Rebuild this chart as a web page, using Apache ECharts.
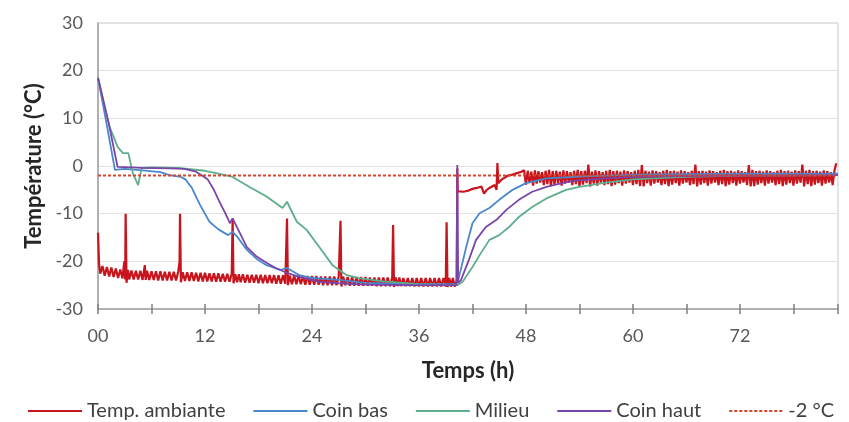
<!DOCTYPE html>
<html>
<head>
<meta charset="utf-8">
<script src="https://cdn.jsdelivr.net/npm/echarts@6/dist/echarts.min.js"></script>
<style>html,body{margin:0;padding:0;background:#fff}#c{width:849px;height:422px}</style>
</head>
<body>
<div id="c"></div>
<script>
// ---- Data (time in hours, temperature in °C) ----
const xTickLabels = ['00','12','24','36','48','60','72'];
const seriesNames = ['Temp. ambiante','Coin bas','Milieu','Coin haut','-2 °C'];

const tempAmbiante = [
 [0,-14],[0.12,-20.6],[0.25,-22.6],[0.5,-21],[0.75,-23],[1,-21.2],[1.25,-23.2],[1.5,-21.3],[1.75,-23.3],[2,-21.5],[2.25,-23.5],
 [2.5,-21.7],[2.75,-23.6],[2.95,-20],[3.05,-23.8],[3.1,-10],[3.2,-24.5],[3.35,-21.8],[3.5,-23.8],[3.75,-21.9],[4,-23.8],
 [4.25,-22],[4.5,-23.8],[4.75,-22],[5,-23.9],[5.25,-20.8],[5.35,-23.9],[5.5,-22],[5.75,-23.9],[6,-22.1],[6.25,-23.9],
 [6.5,-22.1],[6.75,-24],[7,-22.1],[7.25,-24],[7.5,-22.2],[7.75,-24],[8,-22.2],[8.25,-24],[8.5,-22.2],[8.75,-24],[9,-22.2],
 [9.15,-20],[9.2,-10],[9.3,-24.4],[9.5,-22.3],[9.75,-24.1],[10,-22.3],[10.25,-24.1],[10.5,-22.3],[10.75,-24.1],[11,-22.4],
 [11.25,-24.2],[11.5,-22.4],[11.75,-24.2],[12,-22.4],[12.25,-24.2],[12.5,-22.5],[12.75,-24.2],[13,-22.5],[13.25,-24.3],
 [13.5,-22.5],[13.75,-24.3],[14,-22.6],[14.25,-24.3],[14.5,-22.6],[14.75,-24.3],[15,-22.6],[15.1,-11],[15.2,-24.6],
 [15.4,-22.7],[15.6,-24.4],[15.8,-22.7],[16,-24.4],[16.25,-22.7],[16.5,-24.5],[16.75,-22.8],[17,-24.5],[17.25,-22.8],
 [17.5,-24.5],[17.75,-22.8],[18,-24.6],[18.25,-22.8],[18.5,-24.6],[18.75,-22.9],[19,-24.6],[19.25,-22.9],[19.5,-24.6],
 [19.75,-22.9],[20,-24.7],[20.25,-22.9],[20.5,-24.7],[20.75,-22.9],[21,-24.7],[21.2,-11],[21.3,-25],[21.5,-23],[21.75,-24.8],
 [22,-23],[22.25,-24.8],[22.5,-23],[22.75,-24.8],[23,-23.1],[23.25,-24.9],[23.5,-23.1],[23.75,-24.9],[24,-23.1],[24.25,-24.9],
 [24.5,-23.1],[24.75,-24.9],[25,-23.2],[25.25,-25],[25.5,-23.2],[25.75,-25],[26,-23.2],[26.25,-25],[26.5,-23.2],[26.75,-25],
 [27,-23.2],[27.2,-11.5],[27.3,-25.3],[27.5,-23.2],[27.75,-25],[28,-23.3],[28.25,-25.1],[28.5,-23.3],[28.75,-25.1],[29,-23.3],
 [29.25,-25.1],[29.5,-23.3],[29.75,-25.1],[30,-23.3],[30.25,-25.1],[30.5,-23.4],[30.75,-25.1],[31,-23.4],[31.25,-25.2],
 [31.5,-23.4],[31.75,-25.2],[32,-23.4],[32.25,-25.2],[32.5,-23.4],[32.75,-25.2],[33,-23.4],[33.1,-12.4],[33.2,-25.4],
 [33.4,-23.4],[33.6,-25.2],[33.8,-23.4],[34,-25.2],[34.25,-23.5],[34.5,-25.2],[34.75,-23.5],[35,-25.2],[35.25,-23.5],
 [35.5,-25.3],[35.75,-23.5],[36,-25.3],[36.25,-23.5],[36.5,-25.3],[36.75,-23.5],[37,-25.3],[37.25,-23.5],[37.5,-25.3],
 [37.75,-23.5],[38,-25.3],[38.25,-23.5],[38.5,-25.3],[38.75,-23.5],[39,-25.3],[39.1,-11.8],[39.2,-25.4],[39.4,-23.5],
 [39.6,-25.3],[39.8,-23.5],[40,-25.3],[40.25,-24],
 [40.3,-0.5],[40.35,-5.3],[41,-5.4],[41.5,-5.2],[42,-4.8],[42.5,-4.6],[43,-4.3],[43.3,-5.8],[43.6,-5],[44,-4.5],[44.5,-4],
 [44.7,-5],[44.8,0.6],[44.9,-3.6],[45.3,-2.8],[46,-2],[46.5,-1.8],[47,-1.5],[47.5,-1.2],[47.8,-0.9],
 [48.0,-3.9],[48.2,-1.0],[48.4,-3.6],[48.6,-1.2],[48.8,-4.1],[49.0,-0.9],[49.2,-3.7],[49.4,-1.1],[49.6,-3.5],[49.8,-1.3],
 [50.0,-4.0],[50.2,-1.0],[50.4,-3.8],[50.6,-0.8],[50.8,-4.2],[51.0,-1.1],[51.2,-3.9],[51.4,-1.0],[51.6,-3.6],[51.8,-1.2],
 [52.0,-4.1],[52.2,-0.9],[52.4,-3.7],[52.6,-1.1],[52.8,-3.5],[53.0,-1.3],[53.2,-4.0],[53.4,-1.0],[53.6,-3.8],[53.8,-0.8],
 [54.0,-4.2],[54.2,-1.1],[54.4,-3.9],[54.6,-1.0],[54.8,-3.6],[55.0,0.3],[55.2,-4.3],[55.4,-1.2],[55.6,-3.7],[55.8,-0.9],
 [56.0,-4.1],[56.2,-1.1],[56.4,-3.5],[56.6,-1.3],[56.8,-4.0],[57.0,-1.0],[57.2,-3.8],[57.4,-0.8],[57.6,-4.2],[57.8,-1.1],
 [58.0,-3.9],[58.2,-1.0],[58.4,-3.6],[58.6,-1.2],[58.8,-4.1],[59.0,-0.9],[59.2,-3.7],[59.4,-1.1],[59.6,-3.5],[59.8,-1.3],
 [60.0,-4.0],[60.2,-1.0],[60.4,-3.8],[60.6,-0.8],[60.8,-4.2],[61.0,0.2],[61.2,-4.3],[61.4,-1.0],[61.6,-3.6],[61.8,-1.2],
 [62.0,-4.1],[62.2,-0.9],[62.4,-3.7],[62.6,-1.1],[62.8,-3.5],[63.0,-1.3],[63.2,-4.0],[63.4,-1.0],[63.6,-3.8],[63.8,-0.8],
 [64.0,-4.2],[64.2,-1.1],[64.4,-3.9],[64.6,-1.0],[64.8,-3.6],[65.0,-1.2],[65.2,-4.1],[65.4,-0.9],[65.6,-3.7],[65.8,-1.1],
 [66.0,-3.5],[66.2,-1.3],[66.4,-4.0],[66.6,-1.0],[66.8,-3.8],[67.0,0.3],[67.2,-4.3],[67.4,-1.1],[67.6,-3.9],[67.8,-1.0],
 [68.0,-3.6],[68.2,-1.2],[68.4,-4.1],[68.6,-0.9],[68.8,-3.7],[69.0,-1.1],[69.2,-3.5],[69.4,-1.3],[69.6,-4.0],[69.8,-1.0],
 [70.0,-3.8],[70.2,-0.8],[70.4,-4.2],[70.6,-1.1],[70.8,-3.9],[71.0,-1.0],[71.2,-3.6],[71.4,-1.2],[71.6,-4.1],[71.8,-0.9],
 [72.0,-3.7],[72.2,-1.1],[72.4,-3.5],[72.6,-1.3],[72.8,-4.0],[73.0,0.2],[73.2,-4.3],[73.4,-0.8],[73.6,-4.2],[73.8,-1.1],
 [74.0,-3.9],[74.2,-1.0],[74.4,-3.6],[74.6,-1.2],[74.8,-4.1],[75.0,-0.9],[75.2,-3.7],[75.4,-1.1],[75.6,-3.5],[75.8,-1.3],
 [76.0,-4.0],[76.2,-1.0],[76.4,-3.8],[76.6,-0.8],[76.8,-4.2],[77.0,-1.1],[77.2,-3.9],[77.4,-1.0],[77.6,-3.6],[77.8,-1.2],
 [78.0,-4.1],[78.2,-0.9],[78.4,-3.7],[78.6,-1.1],[78.8,-3.5],[79.0,0.3],[79.2,-4.3],[79.4,-1.0],[79.6,-3.8],[79.8,-0.8],
 [80.0,-4.2],[80.2,-1.1],[80.4,-3.9],[80.6,-1.0],[80.8,-3.6],[81.0,-1.2],[81.2,-4.1],[81.4,-0.9],[81.6,-3.7],[81.8,-1.1],
 [82.0,-3.5],[82.2,-1.3],[82.4,-4.0],[82.6,-1.0],[82.8,0.6]
];

const coinBas = [
 [0,18.5],[1,8.5],[1.9,-0.8],[3,-0.6],[5,-0.9],[7,-1.3],[8,-1.9],[9.3,-2.3],[9.8,-2.8],[10.5,-4.5],[11.4,-8],[12.5,-11.7],
 [13.5,-13.3],[14.6,-14.5],[15.1,-13.8],[15.6,-14.8],[16.7,-17.6],[17.8,-19.5],[18.9,-20.8],[20.5,-21.8],[21.2,-21.4],
 [22.6,-22.9],[24,-23.5],[27,-23.9],[30,-24.5],[35,-24.8],[40.2,-24.8],[40.4,-24],[41.3,-17],[42,-12],[42.8,-9.9],
 [43.9,-8.8],[45,-7.1],[46.5,-5],[48,-3.6],[50.3,-2.6],[54,-2.2],[57,-2.0],[60,-1.8],[66,-1.7],[72,-1.6],[83,-1.6]
];

const milieu = [
 [0,18.5],[0.8,12],[1.3,8.2],[2.2,4],[2.8,2.7],[3.4,2.7],[3.9,-1.5],[4.5,-4],[4.9,-0.4],[6,-0.3],[9,-0.4],[12,-1],
 [13.5,-1.6],[15.1,-2.3],[17,-4.4],[18.9,-6.4],[20.7,-8.8],[21.2,-7.5],[22.3,-11.7],[23.4,-13.4],[24.9,-17.2],[26.3,-20.8],
 [27.9,-22.9],[29.3,-23.5],[32,-24.2],[36,-24.8],[40.3,-25],[40.9,-24.3],[42,-21.2],[42.8,-18.7],[43.9,-15.5],[45,-14.5],
 [46.1,-12.8],[47.2,-10.7],[48.7,-8.6],[50.3,-6.8],[52.5,-5],[54,-4.4],[57,-3.5],[60,-2.8],[66,-2.3],[72,-2],[83,-1.9]
];

const coinHaut = [
 [0,18.5],[1.2,9],[2.2,-0.2],[5,-0.4],[8,-0.5],[9.7,-0.6],[11,-1.2],[12.3,-2.8],[13,-5],[13.7,-7.8],[14.3,-10],[14.8,-12],
 [15.1,-11],[15.5,-12.5],[16.7,-17],[17.8,-19],[18.9,-20.3],[20,-21.5],[21.2,-22.4],[22.5,-23.2],[24.8,-24.3],[27,-24.6],
 [30,-24.9],[35,-25],[40.2,-25],[40.3,0.2],[40.4,-24.5],[40.7,-24],[41.6,-19.7],[42.4,-15.5],[43.5,-12.8],[44.7,-11.3],
 [45.8,-9.2],[47.2,-7.1],[48.7,-5.4],[50.3,-4.4],[52.5,-3.4],[54,-3],[57,-2.6],[60,-2.3],[66,-2.1],[72,-2],[83,-1.9]
];

const seuil = [[0,-2],[83,-2]];

const FONT = 'Lato';
const chart = echarts.init(document.getElementById('c'), null, {renderer:'canvas'});
chart.setOption({
  animation:false,
  textStyle:{fontFamily:FONT},
  grid:{left:98,right:11,top:23,bottom:113,show:true,borderColor:'#C8C8C8',borderWidth:1},
  legend:{
    top:396,left:22,width:840,itemWidth:54,itemHeight:10,itemGap:27,
    itemStyle:{opacity:0},
    textStyle:{fontSize:20,color:'#404040',fontFamily:FONT},
    data:seriesNames
  },
  xAxis:[{
    type:'value',min:0,max:83,interval:6,position:'bottom',
    name:'Temps (h)',nameLocation:'middle',nameGap:51,
    nameTextStyle:{fontSize:22,fontWeight:'bold',color:'#262626',fontFamily:FONT},
    axisLine:{show:true,onZero:false,lineStyle:{color:'#A0A0A0',width:1.5}},
    axisTick:{show:true,length:5,lineStyle:{color:'#808080',width:1.5}},
    axisLabel:{fontSize:18,color:'#595959',margin:18,
      formatter:v=>{const i=Math.round(v/12);return (v%12===0 && i<xTickLabels.length)?xTickLabels[i]:'';}},
    splitLine:{show:false}
  },{
    type:'value',min:0,max:83,interval:6,position:'bottom',
    axisLine:{show:false,onZero:false},axisLabel:{show:false},splitLine:{show:false},
    axisTick:{show:true,inside:true,length:5,lineStyle:{color:'#808080',width:1.5}}
  }],
  yAxis:{
    type:'value',min:-30,max:30,interval:10,
    name:'Température (°C)',nameLocation:'middle',nameGap:47,
    nameTextStyle:{fontSize:22,fontWeight:'bold',color:'#262626',fontFamily:FONT},
    axisLine:{show:true,onZero:false,lineStyle:{color:'#A0A0A0',width:1.5}},
    axisTick:{show:false},
    axisLabel:{fontSize:18,color:'#595959',margin:15},
    splitLine:{show:true,lineStyle:{color:'#E2E2E2',width:1}}
  },
  series:[
    {name:seriesNames[0],type:'line',data:tempAmbiante,symbol:'none',color:'#C8141C',lineStyle:{width:2.2,color:'#C8141C'}},
    {name:seriesNames[1],type:'line',data:coinBas,symbol:'none',color:'#4A88CE',lineStyle:{width:1.8,color:'#4A88CE'}},
    {name:seriesNames[2],type:'line',data:milieu,symbol:'none',color:'#5EAE8C',lineStyle:{width:1.8,color:'#5EAE8C'}},
    {name:seriesNames[3],type:'line',data:coinHaut,symbol:'none',color:'#7A45A8',lineStyle:{width:1.8,color:'#7A45A8'}},
    {name:seriesNames[4],type:'line',data:seuil,symbol:'none',color:'#D9452A',lineStyle:{width:2,type:[3,2],color:'#D9452A'}}
  ]
});
</script>
</body>
</html>
